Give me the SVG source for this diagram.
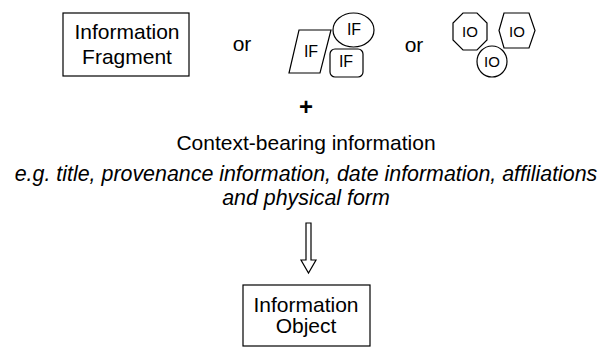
<svg xmlns="http://www.w3.org/2000/svg" width="603" height="347" viewBox="0 0 603 347">
<style>
text{font-family:"Liberation Sans",Arial,sans-serif;fill:#000;text-anchor:middle}
.b{font-size:21px}
.f{font-size:16px}
.o{font-size:15px}
.i{font-size:21.4px;font-style:italic}
.sh{fill:#fff;stroke:#000;stroke-width:1.2}
</style>
<rect width="603" height="347" fill="#fff"/>
<g id="fragment">
<rect class="sh" x="63" y="13" width="126" height="63"/>
<text class="b" x="127" y="39">Information</text>
<text class="b" x="127" y="64">Fragment</text>
</g>
<text id="or1" class="b" x="242" y="51">or</text>
<g id="if-shapes">
<polygon class="sh" points="299,30 331,30 320,73 289,73"/>
<text class="f" x="311" y="57">IF</text>
<ellipse class="sh" cx="353.5" cy="30" rx="20.5" ry="17"/>
<text class="f" x="354" y="35">IF</text>
<rect class="sh" x="330" y="49" width="33" height="28" rx="5"/>
<text class="f" x="346" y="67">IF</text>
</g>
<text id="or2" class="b" x="414" y="52">or</text>
<g id="io-shapes">
<polygon class="sh" points="463,13 477,13 487,23 487,40 477,50 463,50 453,40 453,23"/>
<text class="o" x="470" y="37">IO</text>
<polygon class="sh" points="499,30.5 504,13 529,13 535,30.5 529,48 504,48"/>
<text class="o" x="517" y="37">IO</text>
<ellipse class="sh" cx="492" cy="61.5" rx="15" ry="15.5"/>
<text class="o" x="492" y="67">IO</text>
</g>
<text id="plus" x="306" y="115" style="font-size:24px;font-weight:bold">+</text>
<g id="context">
<text class="b" x="306" y="150">Context-bearing information</text>
<text class="i" x="306" y="181">e.g. title, provenance information, date information, affiliations</text>
<text class="i" x="306" y="205">and physical form</text>
</g>
<g id="connectors">
<polygon class="sh" points="306,223 311,223 311,260 316,260 308.5,273 301,260 306,260"/>
</g>
<g id="object">
<rect class="sh" x="243" y="285" width="127" height="61"/>
<text class="b" x="306" y="312">Information</text>
<text class="b" x="306" y="333">Object</text>
</g>
</svg>
